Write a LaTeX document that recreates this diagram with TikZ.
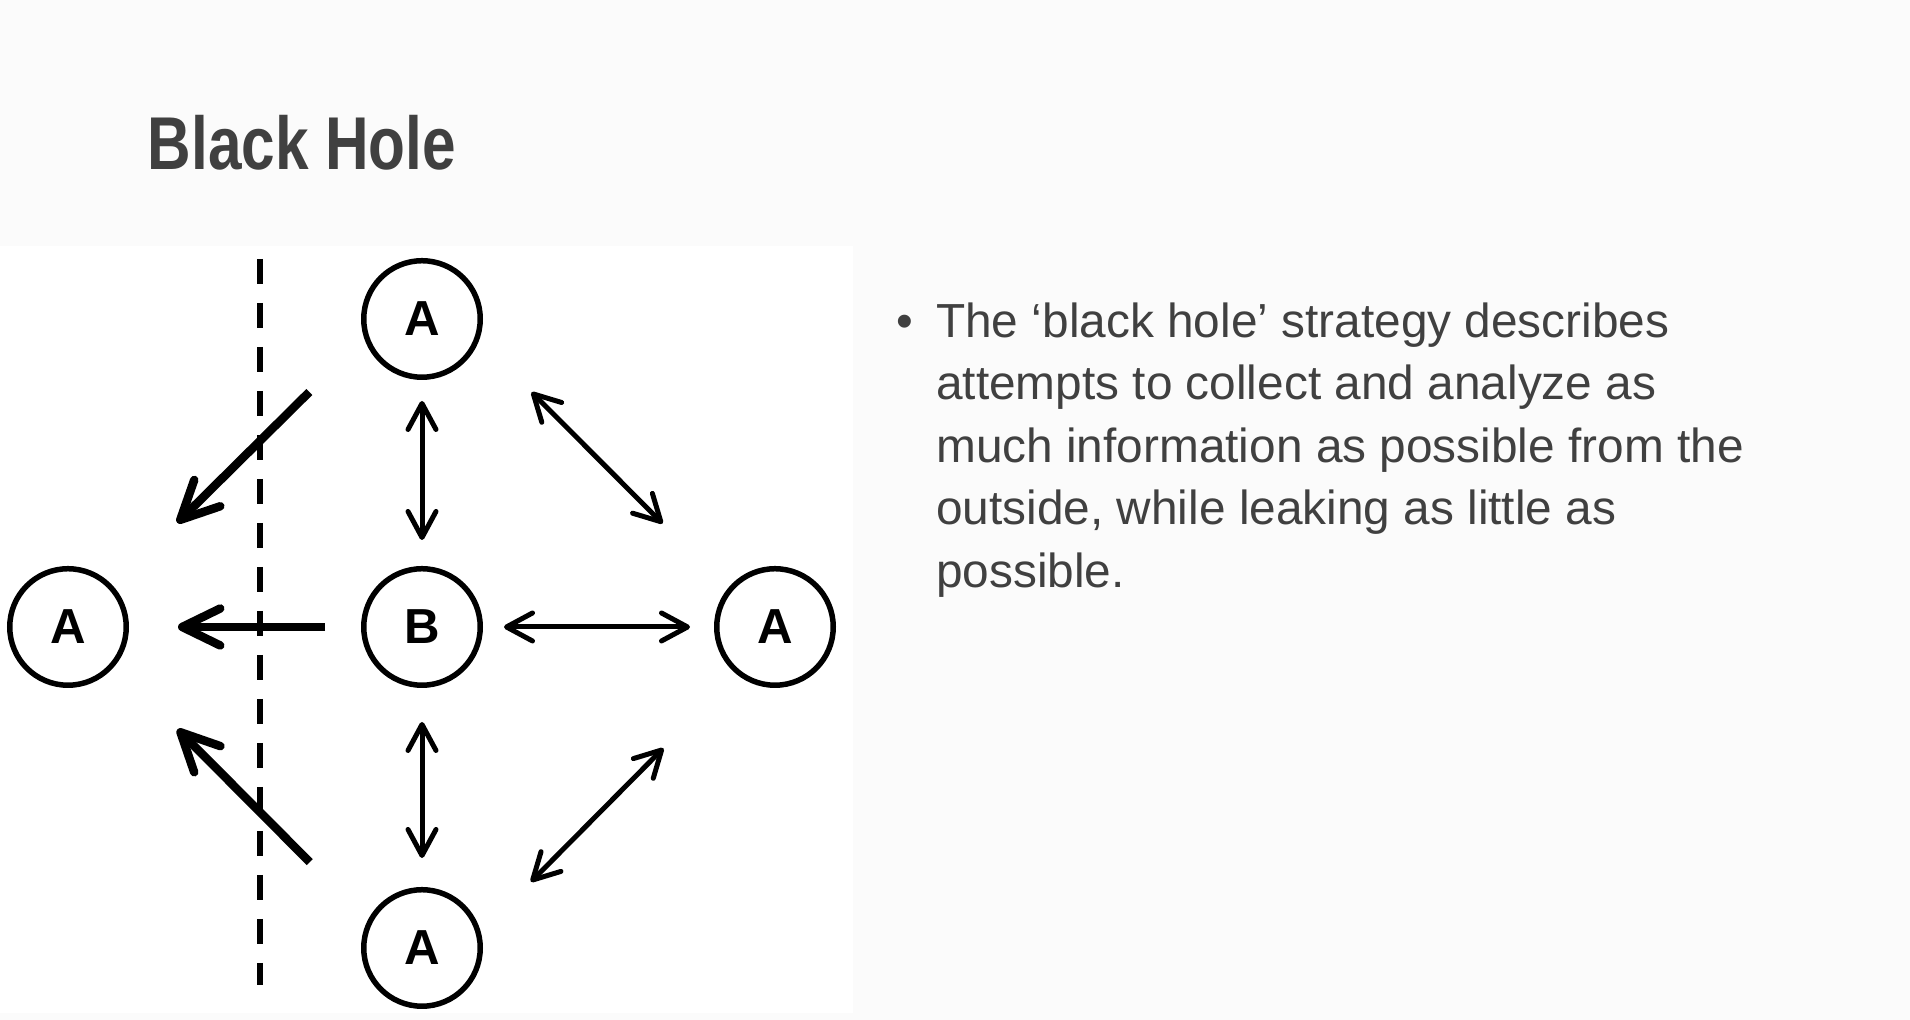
\documentclass[tikz,border=0pt]{standalone}
\usepackage{fontspec}
\setmainfont{Liberation Sans}
\usetikzlibrary{arrows.meta}
\definecolor{slidebg}{HTML}{FBFBFB}
\definecolor{slidetext}{HTML}{404040}

\begin{document}
\begin{tikzpicture}

\tikzset{vertex/.style = {shape=circle,draw,line width=0.055cm,minimum size=1.165cm,inner sep=0pt,font=\fontsize{14}{14}\selectfont\bfseries}}
\tikzset{edge/.style = {line width=0.05cm,> = {Straight Barb[length=0.26cm,width=0.28cm,round]},<->}}
\tikzset{leak/.style = {line width=0.085cm,> = {Straight Barb[length=0.38cm,width=0.37cm,round]},->}}
%slide
\useasboundingbox (0,0) rectangle (19.10,10.20);
\fill [slidebg] (0,0) rectangle (19.10,10.20);
\fill [white] (0,0.07) rectangle (8.53,7.74);
\node [anchor=base west, inner sep=0pt, text=slidetext, font=\fontsize{21.3}{25}\selectfont\bfseries] (title) at (1.47,8.50) {\scalebox{0.806}[1]{Black Hole}};
\node [anchor=north west, inner sep=0pt, align=left, text=slidetext, font=\fontsize{13.6}{17.8}\selectfont] (point) at (9.355,7.18) {\llap{\textbullet\hspace{0.23cm}}The ‘black hole’ strategy describes\\attempts to collect and analyze as\\much information as possible from the\\outside, while leaking as little as\\possible.};
%verticies
\node[vertex] (top) at (4.22,7.01) {A};
\node[vertex] (mid) at (4.22,3.93) {B};
\node[vertex] (left) at (0.68,3.93) {A};
\node[vertex] (right) at (7.75,3.93) {A};
\node[vertex] (bottom) at (4.22,0.72) {A};
%border
\draw [line width=0.06cm, dash pattern=on 0.25cm off 0.19cm] (2.60,7.61) -- (2.60,0.35);
%edges
\draw [edge, shorten <=0.21cm, shorten >=0.26cm] (top) -- (mid);
\draw [edge, shorten <=0.34cm, shorten >=0.29cm] (mid) -- (bottom);
\draw [edge, shorten <=0.21cm, shorten >=0.24cm] (mid) -- (right);
\draw [edge, shorten <=0.74cm, shorten >=0.92cm] (top.340) -- (right.141);
\draw [edge, shorten <=1.04cm, shorten >=0.71cm] (right.231) -- (bottom.15);
%leaks
\draw [leak, shorten <=0.36cm, shorten >=0.49cm] (mid) -- (left);
\draw [leak, shorten <=0.77cm, shorten >=0.90cm] (top.198) -- (left.42);
\draw [leak, shorten <=0.82cm, shorten >=0.89cm] (bottom.153) -- (left.320);

\end{tikzpicture}
\end{document}
